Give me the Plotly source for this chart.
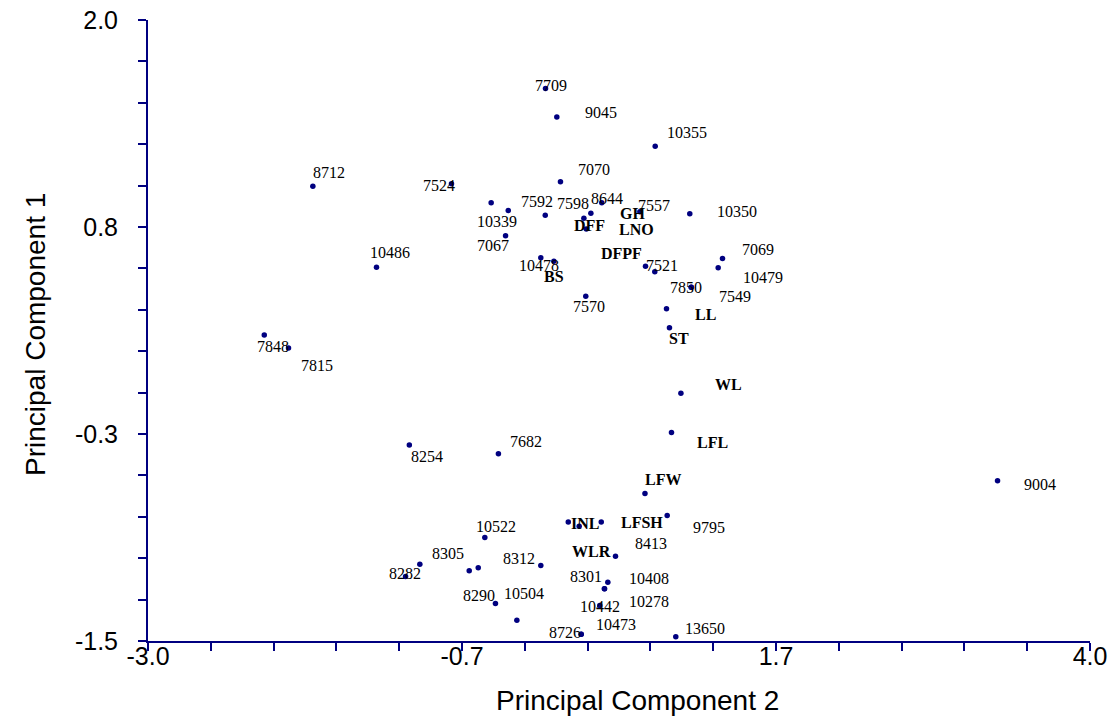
import numpy as np
import plotly.graph_objects as go

# ---- Data: observations (scores) ----
obs_labels = ["7709", "9045", "10355", "7070", "8712", "7524", "10339", "7592", "7598", "7067",
              "8644", "7557", "10350", "7069", "10479", "7521", "7850", "7549", "10486", "10478",
              "7570", "7848", "7815", "8254", "7682", "9004", "8282", "", "8305", "",
              "10522", "8312", "8290", "10504", "8413", "9795", "10408", "8301", "10278", "10442",
              "8726", "10473", "13650"]
obs_pc2 = [-0.046, 0.038, 0.769, 0.065, -1.775, -0.745, -0.450, -0.323, -0.048, -0.343,
           0.291, 0.372, 1.026, 1.269, 1.237, 0.697, 1.037, 1.037, -1.302, -0.081,
           0.253, -2.136, -1.956, -1.058, -0.396, 3.313, -1.086, -0.980, -0.613, -0.546,
           -0.497, -0.081, -0.418, -0.259, 0.204, 0.858, 0.417, 0.392, 0.392, 0.357,
           0.219, 0.219, 0.922]
obs_pc1 = [1.614, 1.454, 1.289, 1.088, 1.063, 1.077, 0.970, 0.926, 0.900, 0.784,
           0.911, 0.970, 0.908, 0.656, 0.603, 0.612, 0.494, 0.494, 0.607, 0.660,
           0.443, 0.224, 0.152, -0.396, -0.445, -0.597, -1.136, -1.067, -1.104, -1.087,
           -0.917, -1.074, -1.289, -1.383, -0.853, -0.793, -1.169, -1.206, -1.206, -1.300,
           -1.462, -1.462, -1.476]

# ---- Data: variables (loadings) ----
var_labels = ["DFF", "GH", "LNO", "DFPF", "BS", "LL", "ST", "WL", "LFL", "LFW", "INL", "LFSH", "WLR"]
var_pc2 = [0.239, 0.655, 0.257, 0.766, 0.016, 0.853, 0.875, 0.960, 0.890, 0.693, 0.123, 0.368, 0.474]
var_pc1 = [0.883, 0.919, 0.822, 0.581, 0.641, 0.372, 0.265, -0.103, -0.325, -0.669, -0.830, -0.830, -1.022]

# ---- Axis tick labels ----
x_tick_labels = ["-3.0", "-0.7", "1.7", "4.0"]
y_tick_labels = ["-1.5", "-0.3", "0.8", "2.0"]

# ---- Label placement (pixel shifts: dx right, dy down) ----
obs_offsets = [(5, -3), (44, -4), (32, -14), (34, -12), (16, -14), (-12, 2), (6, 19), (29, -9), (28, -12), (-13, 10),
               (16, -15), (52, 3), (47, -2), (36, -9), (45, 10), (16, -1), (-5, 0), (44, 9), (13, -15), (-2, 8),
               (3, 10), (9, 11), (29, 18), (18, 11), (28, -12), (42, 4), (-1, -3), (0, 0), (-21, -17), (0, 0),
               (11, -11), (-22, -7), (-16, -8), (7, -27), (72, 17), (42, 12), (41, -4), (-18, -12), (45, 13), (0, 1),
               (-16, -2), (35, -10), (29, -8)]
var_offsets = [(6, 7), (-7, 2), (50, 0), (-33, -18), (0, 15), (39, 6), (10, 11), (48, -9), (41, 10), (18, -14),
               (17, 1), (41, 0), (-24, -5)]

NAVY = "#000080"
X_RANGE = [-3.0, 4.0]
Y_RANGE = [-1.5, 2.0]
LABEL_FONT = "Liberation Serif, Times New Roman, serif"
AXIS_FONT = "Liberation Sans, Arial, sans-serif"

fig = go.Figure()
fig.add_trace(go.Scatter(x=obs_pc2 + var_pc2, y=obs_pc1 + var_pc1, mode="markers",
                         marker=dict(size=5.5, color=NAVY), hoverinfo="skip", showlegend=False))

annotations = []
for lab, x, y, (dx, dy) in zip(obs_labels, obs_pc2, obs_pc1, obs_offsets):
    if lab:
        annotations.append(dict(x=x, y=y, text=lab, showarrow=False, xshift=dx, yshift=-dy,
                                xanchor="center", yanchor="middle",
                                font=dict(family=LABEL_FONT, size=16, color="black")))
for lab, x, y, (dx, dy) in zip(var_labels, var_pc2, var_pc1, var_offsets):
    annotations.append(dict(x=x, y=y, text="<b>" + lab + "</b>", showarrow=False, xshift=dx, yshift=-dy,
                            xanchor="center", yanchor="middle",
                            font=dict(family=LABEL_FONT, size=16, color="black")))

# axis titles
title_font = dict(family=AXIS_FONT, size=28, color="black")
annotations.append(dict(xref="paper", yref="paper", x=(637 - 148) / 942, y=0, yshift=-59,
                        text="Principal Component 2", showarrow=False, xanchor="center", yanchor="middle",
                        font=title_font))
annotations.append(dict(xref="paper", yref="paper", x=0, xshift=-113, y=(641 - 335) / 621,
                        text="Principal Component 1", showarrow=False, textangle=-90,
                        xanchor="center", yanchor="middle", font=title_font))

n_ticks = 16
xt = np.linspace(X_RANGE[0], X_RANGE[1], n_ticks)
yt = np.linspace(Y_RANGE[0], Y_RANGE[1], n_ticks)
xtext = [""] * n_ticks
ytext = [""] * n_ticks
for i, t in enumerate(x_tick_labels):
    xtext[i * 5] = t
for i, t in enumerate(y_tick_labels):
    ytext[i * 5] = t

tick_font = dict(family=AXIS_FONT, size=25, color="black")

fig.update_layout(
    width=1112, height=725,
    margin=dict(l=148, r=22, t=20, b=84),
    paper_bgcolor="white", plot_bgcolor="white",
    annotations=annotations,
    xaxis=dict(range=X_RANGE, tickmode="array", tickvals=xt, ticktext=xtext, automargin=False,
               ticks="outside", ticklen=8, tickwidth=2, tickcolor=NAVY, ticklabelstandoff=-16,
               showline=True, linecolor=NAVY, linewidth=2, showgrid=False, zeroline=False,
               tickfont=tick_font),
    yaxis=dict(range=Y_RANGE, tickmode="array", tickvals=yt, ticktext=ytext, automargin=False,
               ticks="outside", ticklen=8, tickwidth=2, tickcolor=NAVY, ticklabelstandoff=15,
               showline=True, linecolor=NAVY, linewidth=2, showgrid=False, zeroline=False,
               tickfont=tick_font),
)

fig.write_html("out.html")
